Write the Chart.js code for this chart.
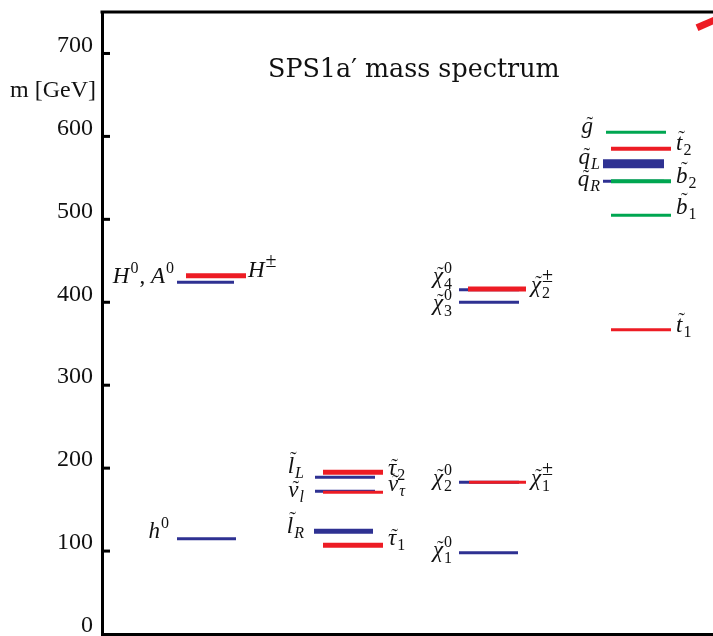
<!DOCTYPE html>
<html>
<head>
<meta charset="utf-8">
<script src="https://cdn.jsdelivr.net/npm/chart.js@4.4.0/dist/chart.umd.min.js"></script>
<style>
  html, body { margin: 0; padding: 0; background: #fff; }
  #wrap { width: 713px; height: 636px; }
</style>
</head>
<body>
<div id="wrap"><canvas id="spectrum"></canvas></div>
<script>
// SPS1a' masses in GeV
const higgsNames = ['h0', 'H0A0', 'Hpm'];
const higgsMasses = [115, 424, 432];
const sleptonNames = ['lL', 'nul', 'lR', 'tau2', 'nutau', 'tau1'];
const sleptonMasses = [189, 172, 124, 195, 171, 107];
const gauginoNames = ['chi10', 'chi20', 'chi30', 'chi40', 'chi1pm', 'chi2pm'];
const gauginoMasses = [98, 183, 400, 415, 183, 416];
const squarkNames = ['qL', 'qR', 'gluino', 't2', 'b2', 'b1', 't1'];
const squarkMasses = [567, 546, 605, 585, 546, 505, 367];
const edgeMark = [731, 741]; // cut-off red stroke in the top right corner
const yTicks = [0, 100, 200, 300, 400, 500, 600, 700];

const BLUE = '#2e3192', RED = '#ed1c24', GREEN = '#00a651';
const INK = '#111';

// where each level sits across the plot (x units, one column per particle group)
const levelStyle = {
  h0: [0.75, 1.34, BLUE, 3], H0A0: [0.75, 1.32, BLUE, 3], Hpm: [0.84, 1.44, RED, 5],
  lL: [2.13, 2.73, BLUE, 3], nul: [2.13, 2.73, BLUE, 3], lR: [2.12, 2.71, BLUE, 5],
  tau2: [2.21, 2.81, RED, 5], nutau: [2.21, 2.81, RED, 3], tau1: [2.21, 2.81, RED, 5],
  chi10: [3.57, 4.16, BLUE, 3], chi20: [3.57, 4.17, BLUE, 3], chi30: [3.57, 4.17, BLUE, 3],
  chi40: [3.57, 4.17, BLUE, 3], chi1pm: [3.67, 4.24, RED, 3], chi2pm: [3.66, 4.24, RED, 5],
  qL: [5.01, 5.62, BLUE, 9], qR: [5.01, 5.62, BLUE, 3], gluino: [5.04, 5.64, GREEN, 3],
  t2: [5.09, 5.69, RED, 4], b2: [5.09, 5.69, GREEN, 4], b1: [5.09, 5.69, GREEN, 3],
  t1: [5.09, 5.69, RED, 3]
};

// label pieces: i = italic, r = roman, t = italic with tilde, sub/sup, ss = stacked sub+sup
const I = s => ({ k: 'i', s }), R = s => ({ k: 'r', s }), T = s => ({ k: 't', s });
const SUB = (s, it) => ({ k: 'sub', s, it }), SUP = s => ({ k: 'sup', s });
const SS = (a, b) => ({ k: 'ss', a, b });

// [level, side, x anchor, baseline offset px, pieces]
const labels = [
  ['h0', 'R', 0.68, -1, [I('h'), SUP('0')]],
  ['H0A0', 'R', 0.73, 1, [I('H'), SUP('0'), R(', '), I('A'), SUP('0')]],
  ['Hpm', 'L', 1.46, 1, [I('H'), SUP('±')]],
  ['lL', 'R', 2.03, -4, [T('l'), SUB('L', true)]],
  ['nul', 'R', 2.03, 6, [T('ν'), SUB('l', true)]],
  ['lR', 'R', 2.03, 2, [T('l'), SUB('R', true)]],
  ['tau2', 'L', 2.86, 3, [T('τ'), SUB('2')]],
  ['nutau', 'L', 2.86, -1, [T('ν'), SUB('τ', true)]],
  ['tau1', 'L', 2.86, 0, [T('τ'), SUB('1')]],
  ['chi20', 'R', 3.51, 3, [T('χ'), SS('2', '0')]],
  ['chi1pm', 'L', 4.29, 3, [T('χ'), SS('1', '±')]],
  ['chi10', 'R', 3.51, 4, [T('χ'), SS('1', '0')]],
  ['chi40', 'R', 3.51, -7, [T('χ'), SS('4', '0')]],
  ['chi30', 'R', 3.51, 8, [T('χ'), SS('3', '0')]],
  ['chi2pm', 'L', 4.29, 3, [T('χ'), SS('2', '±')]],
  ['gluino', 'R', 4.92, 1, [T('g')]],
  ['qL', 'R', 4.99, 0, [T('q'), SUB('L', true)]],
  ['qR', 'R', 4.99, 5, [T('q'), SUB('R', true)]],
  ['t2', 'L', 5.74, 1, [T('t'), SUB('2')]],
  ['b2', 'L', 5.74, 2, [T('b'), SUB('2')]],
  ['b1', 'L', 5.74, -1, [T('b'), SUB('1')]],
  ['t1', 'L', 5.74, 2, [T('t'), SUB('1')]]
];

const allNames = [...higgsNames, ...sleptonNames, ...gauginoNames, ...squarkNames];
const allMasses = [...higgsMasses, ...sleptonMasses, ...gauginoMasses, ...squarkMasses];
const massOf = {};
allNames.forEach((n, i) => { massOf[n] = allMasses[i]; });

const datasets = allNames.map((n, i) => {
  const [x0, x1, color, w] = levelStyle[n];
  return {
    label: n,
    data: [{ x: x0, y: allMasses[i] }, { x: x1, y: allMasses[i] }],
    borderColor: color,
    borderWidth: w,
    borderCapStyle: 'butt',
    pointRadius: 0,
    order: allNames.length - i
  };
});
datasets.push({
  label: 'edge',
  data: [{ x: 5.95, y: edgeMark[0] }, { x: 6.14, y: edgeMark[1] }],
  borderColor: RED, borderWidth: 7, pointRadius: 0, order: 0
});

const MAIN = 23, SMALL = 16;
const fontI = s => `italic ${s}px "Liberation Serif"`;
const fontR = s => `${s}px "Liberation Serif"`;
// the ± sign is set larger than the digits, as in the original
const supSize = s => (s === '±' ? SMALL + 4 : SMALL);

function pieceWidth(ctx, p) {
  if (p.k === 'i' || p.k === 't') { ctx.font = fontI(MAIN); return ctx.measureText(p.s).width + 1; }
  if (p.k === 'r') { ctx.font = fontR(MAIN); return ctx.measureText(p.s).width; }
  if (p.k === 'sub') { ctx.font = p.it ? fontI(SMALL) : fontR(SMALL); return ctx.measureText(p.s).width + 1; }
  if (p.k === 'sup') { ctx.font = fontR(supSize(p.s)); return ctx.measureText(p.s).width + 1; }
  ctx.font = fontR(SMALL);
  const wa = ctx.measureText(p.a).width;
  ctx.font = fontR(supSize(p.b));
  return Math.max(wa, ctx.measureText(p.b).width) + 1;
}

function drawLabel(ctx, pieces, px, align, base) {
  const widths = pieces.map(p => pieceWidth(ctx, p));
  const total = widths.reduce((a, b) => a + b, 0);
  let cx = align === 'R' ? px - total : px;
  ctx.fillStyle = INK;
  ctx.textAlign = 'left';
  ctx.textBaseline = 'alphabetic';
  pieces.forEach((p, j) => {
    if (p.k === 'i' || p.k === 't') {
      ctx.font = fontI(MAIN);
      ctx.fillText(p.s, cx, base);
      if (p.k === 't') {
        const m = ctx.measureText(p.s);
        ctx.font = fontR(20);
        const tm = ctx.measureText('˜');
        const top = base - m.actualBoundingBoxAscent - 2;
        // put the bottom of the tilde glyph just above the letter
        ctx.fillText('˜', cx + widths[j] / 2 - tm.width / 2 + 2, top - tm.actualBoundingBoxDescent);
      }
    } else if (p.k === 'r') {
      ctx.font = fontR(MAIN);
      ctx.fillText(p.s, cx, base);
    } else if (p.k === 'sub') {
      ctx.font = p.it ? fontI(SMALL) : fontR(SMALL);
      ctx.fillText(p.s, cx, base + 5);
    } else if (p.k === 'sup') {
      ctx.font = fontR(supSize(p.s));
      ctx.fillText(p.s, cx, base - 10);
    } else {
      ctx.font = fontR(SMALL);
      ctx.fillText(p.a, cx, base + 6);
      ctx.font = fontR(supSize(p.b));
      ctx.fillText(p.b, cx, base - 10);
    }
    cx += widths[j];
  });
}

const spectrumDecor = {
  id: 'spectrumDecor',
  afterDraw(chart) {
    const { ctx, chartArea, scales: { x, y } } = chart;
    ctx.save();
    // top frame line and inward tick marks
    ctx.strokeStyle = '#000';
    ctx.lineWidth = 3;
    ctx.beginPath();
    ctx.moveTo(chartArea.left - 1.5, chartArea.top);
    ctx.lineTo(chartArea.right, chartArea.top);
    ctx.stroke();
    yTicks.slice(1).forEach(v => {
      const py = y.getPixelForValue(v);
      ctx.beginPath();
      ctx.moveTo(chartArea.left, py);
      ctx.lineTo(chartArea.left + 8, py);
      ctx.stroke();
    });

    // axis title
    ctx.fillStyle = INK;
    ctx.font = fontR(24);
    ctx.textAlign = 'right';
    ctx.textBaseline = 'alphabetic';
    ctx.fillText('m [GeV]', 96, 97);

    // chart title inside the plot
    const title = 'SPS1a′ mass spectrum';
    ctx.font = '26px "DejaVu Serif"';
    const tw = ctx.measureText(title).width;
    ctx.font = `${(26 * 292 / tw).toFixed(1)}px "DejaVu Serif"`;
    ctx.textAlign = 'left';
    ctx.fillText(title, 268, 77);

    labels.forEach(([n, side, ax, dy, pieces]) => {
      const base = y.getPixelForValue(massOf[n]) + dy;
      drawLabel(ctx, pieces, x.getPixelForValue(ax), side, base);
    });
    ctx.restore();
  }
};

new Chart(document.getElementById('spectrum').getContext('2d'), {
  type: 'line',
  data: { datasets },
  options: {
    responsive: true,
    maintainAspectRatio: false,
    animation: false,
    layout: { padding: { top: 12, left: 0, right: 0, bottom: 0 } },
    plugins: { legend: { display: false }, tooltip: { enabled: false } },
    scales: {
      x: {
        type: 'linear', min: 0, max: 6.11,
        ticks: { display: false },
        grid: { display: false, drawTicks: false },
        border: { display: true, color: '#000', width: 3 },
        afterFit(s) { s.height = 2; s.paddingLeft = 0; s.paddingRight = 0; }
      },
      y: {
        type: 'linear', min: 0, max: 750,
        afterBuildTicks(s) { s.ticks = yTicks.map(v => ({ value: v })); },
        ticks: { color: INK, font: { family: 'Liberation Serif', size: 24 }, padding: 9, labelOffset: -8 },
        grid: { display: false, drawTicks: false },
        border: { display: true, color: '#000', width: 3 },
        afterFit(s) { s.width = 102; s.paddingTop = 0; s.paddingBottom = 0; }
      }
    }
  },
  plugins: [spectrumDecor]
});
</script>
</body>
</html>
